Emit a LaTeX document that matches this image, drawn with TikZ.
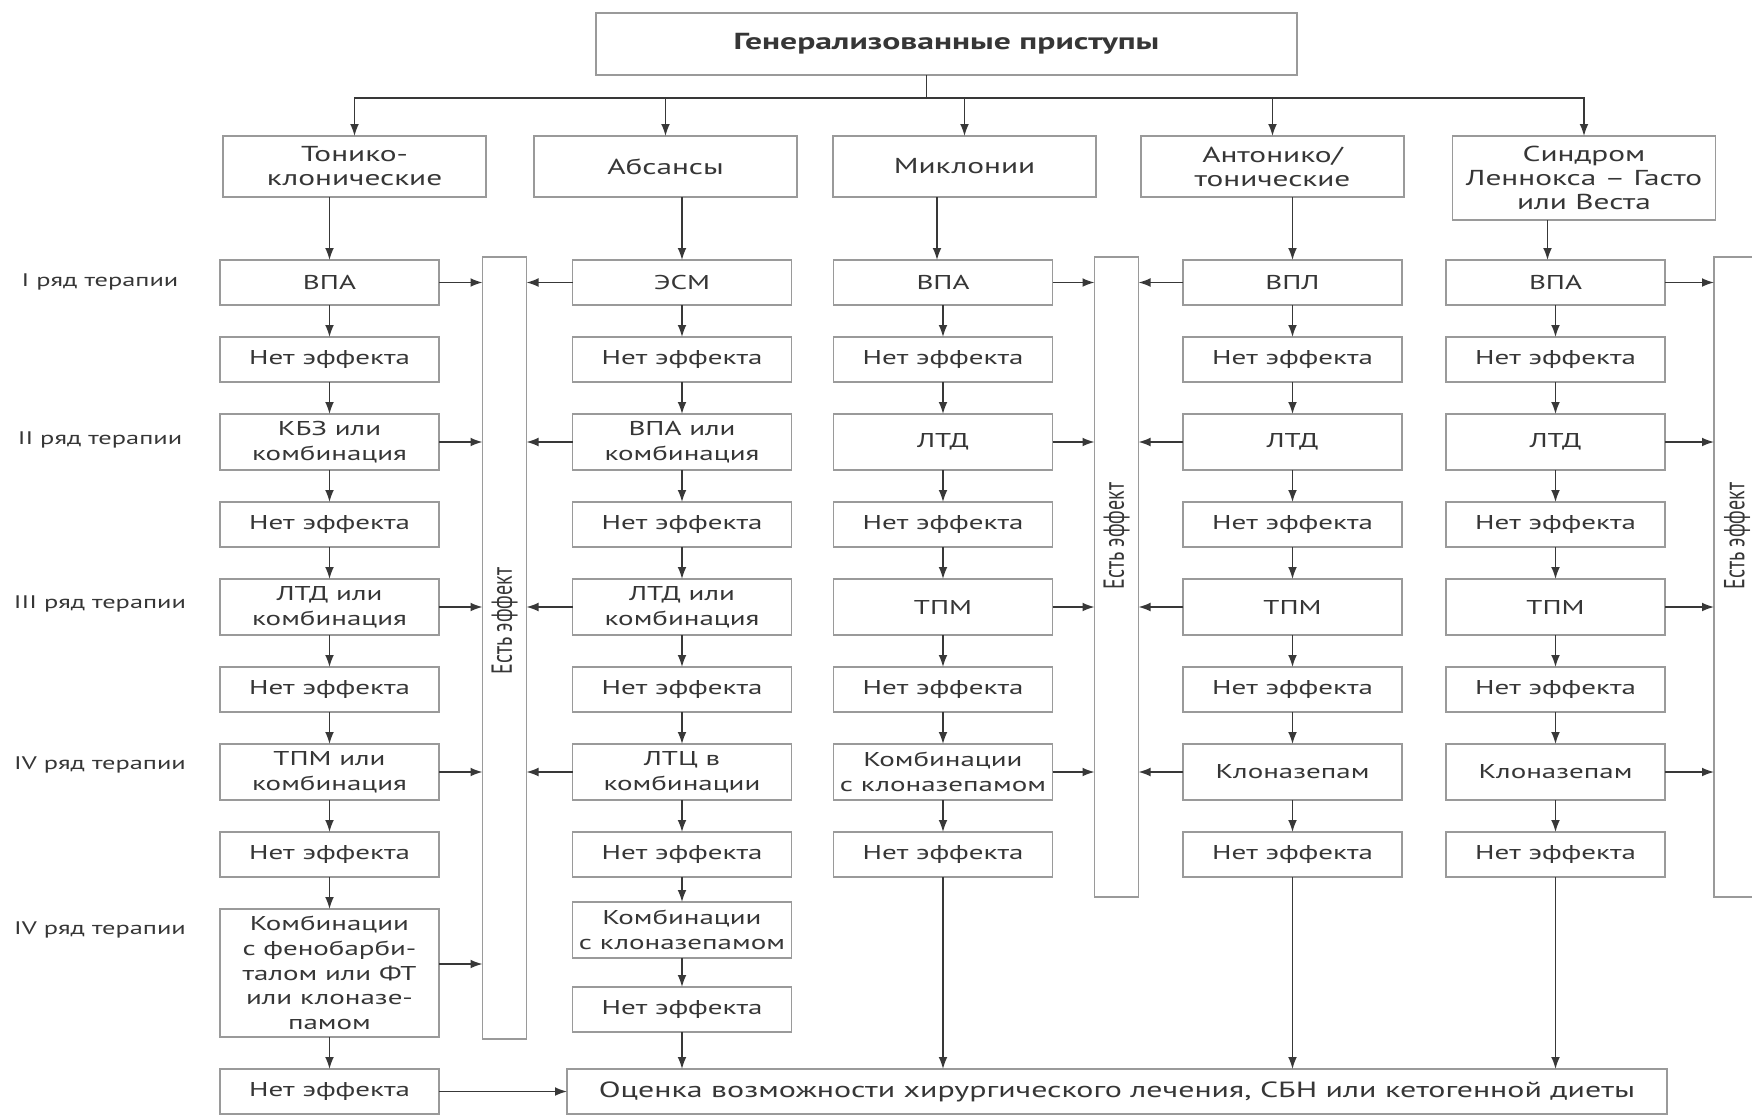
\documentclass[tikz,border=0pt]{standalone}
\usepackage{fontspec}
\setmainfont{PT Sans}[FakeStretch=1.45]
\newfontfamily\plainsans{PT Sans}
\usepackage{graphicx}
\usepackage{tikz}
\usetikzlibrary{arrows.meta,positioning}
\definecolor{gsline}{HTML}{9A9A9A}
\definecolor{gsarrow}{HTML}{383838}
\definecolor{gstext}{HTML}{363636}
\tikzset{
  block/.style={rectangle, draw=gsline, line width=0.9pt, fill=white, text=gstext,
                align=center, font=\fontsize{10}{12.3}\selectfont,
                minimum width=109.5pt, minimum height=22.5pt, inner sep=1pt, outer sep=0pt},
  dbl/.style={minimum height=28pt},
  cat/.style={block, font=\fontsize{10.8}{12}\selectfont, minimum width=131.5pt,
              minimum height=30.5pt, anchor=north},
  hdr/.style={block, font=\fontsize{11.6}{13}\selectfont\bfseries,
              minimum width=350.5pt, minimum height=31pt},
  bar/.style={rectangle, draw=gsline, line width=0.9pt, fill=white,
              minimum width=22pt, anchor=north, outer sep=0pt},
  efftxt/.style={text=gstext, rotate=90, font=\fontsize{10}{12}\plainsans, inner sep=0pt},
  rowlbl/.style={text=gstext, font=\fontsize{9.1}{10}\selectfont, inner sep=0pt},
  ar/.style={-{Latex[length=6pt,width=4.4pt]}, draw=gsarrow, line width=0.75pt},
}

\begin{document}
\begin{tikzpicture}[x=0.5pt, y=-0.5pt, node distance=16pt]
\useasboundingbox (0,0) rectangle (1752,1115);
\fill[white] (0,0) rectangle (1752,1115);

\node[hdr] (gen) at (946.5,44) {Генерализованные приступы};

\node[cat] (tk) at (354.5,136) {Тонико-\\клонические};
\node[cat] (abs) at (665.5,136) {Абсансы};
\node[cat] (mio) at (964.5,136) {Миклонии};
\node[cat] (ton) at (1272.5,136) {Антонико/\\тонические};
\node[cat, minimum height=42pt] (lg) at (1584,136) {Синдром\\Леннокса – Гасто\\или Веста};

% effect bars
\node[bar, minimum height=391pt] (bar1) at (504.5,257) {};
\node[bar, minimum height=320pt] (bar2) at (1116.5,257) {};
\node[bar, minimum height=320pt] (bar3) at (1736,257) {};
\node[efftxt] (eff1) at (504.5,621) {\scalebox{1}[1.45]{Есть эффект}};
\node[efftxt] (eff2) at (1116.5,536) {\scalebox{1}[1.45]{Есть эффект}};
\node[efftxt] (eff3) at (1737,536) {\scalebox{1}[1.45]{Есть эффект}};

% row labels
\node[rowlbl] (r1) at (100,282) {I ряд терапии};
\node[rowlbl] (r2) at (100,440) {II ряд терапии};
\node[rowlbl] (r3) at (100,604) {III ряд терапии};
\node[rowlbl] (r4) at (100,765) {IV ряд терапии};
\node[rowlbl] (r5) at (100,930) {IV ряд терапии};

% column A
\node[block] (a1) at (329.5,282.5) {ВПА};
\node[block, below=of a1] (a2) {Нет эффекта};
\node[block, dbl, below=of a2] (a3) {КБЗ или\\комбинация};
\node[block, below=of a3] (a4) {Нет эффекта};
\node[block, dbl, below=of a4] (a5) {ЛТД или\\комбинация};
\node[block, below=of a5] (a6) {Нет эффекта};
\node[block, dbl, below=of a6] (a7) {ТПМ или\\комбинация};
\node[block, below=of a7] (a8) {Нет эффекта};
\node[block, minimum height=64pt, below=of a8] (a9) {Комбинации\\с фенобарби-\\талом или ФТ\\или клоназе-\\памом};
\node[block, below=of a9] (a10) {Нет эффекта};

% column B
\node[block] (b1) at (682,282.5) {ЭСМ};
\node[block, below=of b1] (b2) {Нет эффекта};
\node[block, dbl, below=of b2] (b3) {ВПА или\\комбинация};
\node[block, below=of b3] (b4) {Нет эффекта};
\node[block, dbl, below=of b4] (b5) {ЛТД или\\комбинация};
\node[block, below=of b5] (b6) {Нет эффекта};
\node[block, dbl, below=of b6] (b7) {ЛТЦ в\\комбинации};
\node[block, below=of b7] (b8) {Нет эффекта};
\node[block, dbl, below=12.5pt of b8] (b9) {Комбинации\\с клоназепамом};
\node[block, below=14.5pt of b9] (b10) {Нет эффекта};

% column C
\node[block] (c1) at (943,282.5) {ВПА};
\node[block, below=of c1] (c2) {Нет эффекта};
\node[block, dbl, below=of c2] (c3) {ЛТД};
\node[block, below=of c3] (c4) {Нет эффекта};
\node[block, dbl, below=of c4] (c5) {ТПМ};
\node[block, below=of c5] (c6) {Нет эффекта};
\node[block, dbl, below=of c6] (c7) {Комбинации\\с клоназепамом};
\node[block, below=of c7] (c8) {Нет эффекта};

% column D
\node[block] (d1) at (1292.5,282.5) {ВПЛ};
\node[block, below=of d1] (d2) {Нет эффекта};
\node[block, dbl, below=of d2] (d3) {ЛТД};
\node[block, below=of d3] (d4) {Нет эффекта};
\node[block, dbl, below=of d4] (d5) {ТПМ};
\node[block, below=of d5] (d6) {Нет эффекта};
\node[block, dbl, below=of d6] (d7) {Клоназепам};
\node[block, below=of d7] (d8) {Нет эффекта};

% column E
\node[block] (e1) at (1555.5,282.5) {ВПА};
\node[block, below=of e1] (e2) {Нет эффекта};
\node[block, dbl, below=of e2] (e3) {ЛТД};
\node[block, below=of e3] (e4) {Нет эффекта};
\node[block, dbl, below=of e4] (e5) {ТПМ};
\node[block, below=of e5] (e6) {Нет эффекта};
\node[block, dbl, below=of e6] (e7) {Клоназепам};
\node[block, below=of e7] (e8) {Нет эффекта};

\node[block, minimum width=550pt, font=\fontsize{11}{13}\selectfont] (eval) at (1117,1091.5) {Оценка возможности хирургического лечения, СБН или кетогенной диеты};

% header to categories
\draw[ar] ([xshift=-10pt]gen.south) -- ++(0,23) -| (tk.north);
\draw[ar] ([xshift=-10pt]gen.south) -- ++(0,23) -| (abs.north);
\draw[ar] ([xshift=-10pt]gen.south) -- ++(0,23) -| (mio.north);
\draw[ar] ([xshift=-10pt]gen.south) -- ++(0,23) -| (ton.north);
\draw[ar] ([xshift=-10pt]gen.south) -- ++(0,23) -| (lg.north);
\draw[ar] (a1.north |- tk.south) -- (a1.north);
\draw[ar] (b1.north |- abs.south) -- (b1.north);
\draw[ar] ([xshift=-3pt]c1.north |- mio.south) -- ([xshift=-3pt]c1.north);
\draw[ar] (d1.north |- ton.south) -- (d1.north);
\draw[ar] ([xshift=-4pt]e1.north |- lg.south) -- ([xshift=-4pt]e1.north);

% chains
\draw[ar] (a1)--(a2); \draw[ar] (a2)--(a3); \draw[ar] (a3)--(a4); \draw[ar] (a4)--(a5); \draw[ar] (a5)--(a6);
\draw[ar] (a6)--(a7); \draw[ar] (a7)--(a8); \draw[ar] (a8)--(a9); \draw[ar] (a9)--(a10);
\draw[ar] (b1)--(b2); \draw[ar] (b2)--(b3); \draw[ar] (b3)--(b4); \draw[ar] (b4)--(b5); \draw[ar] (b5)--(b6);
\draw[ar] (b6)--(b7); \draw[ar] (b7)--(b8); \draw[ar] (b8)--(b9); \draw[ar] (b9)--(b10);
\draw[ar] (c1)--(c2); \draw[ar] (c2)--(c3); \draw[ar] (c3)--(c4); \draw[ar] (c4)--(c5); \draw[ar] (c5)--(c6);
\draw[ar] (c6)--(c7); \draw[ar] (c7)--(c8);
\draw[ar] (d1)--(d2); \draw[ar] (d2)--(d3); \draw[ar] (d3)--(d4); \draw[ar] (d4)--(d5); \draw[ar] (d5)--(d6);
\draw[ar] (d6)--(d7); \draw[ar] (d7)--(d8);
\draw[ar] (e1)--(e2); \draw[ar] (e2)--(e3); \draw[ar] (e3)--(e4); \draw[ar] (e4)--(e5); \draw[ar] (e5)--(e6);
\draw[ar] (e6)--(e7); \draw[ar] (e7)--(e8);

% to effect bars
\draw[ar] (a1.east) -- (a1.east -| bar1.west); \draw[ar] (a3.east) -- (a3.east -| bar1.west);
\draw[ar] (a5.east) -- (a5.east -| bar1.west); \draw[ar] (a7.east) -- (a7.east -| bar1.west);
\draw[ar] ([yshift=4.5pt]a9.east) -- ([yshift=4.5pt]a9.east -| bar1.west);
\draw[ar] (b1.west) -- (b1.west -| bar1.east); \draw[ar] (b3.west) -- (b3.west -| bar1.east);
\draw[ar] (b5.west) -- (b5.west -| bar1.east); \draw[ar] (b7.west) -- (b7.west -| bar1.east);
\draw[ar] (c1.east) -- (c1.east -| bar2.west); \draw[ar] (c3.east) -- (c3.east -| bar2.west);
\draw[ar] (c5.east) -- (c5.east -| bar2.west); \draw[ar] (c7.east) -- (c7.east -| bar2.west);
\draw[ar] (d1.west) -- (d1.west -| bar2.east); \draw[ar] (d3.west) -- (d3.west -| bar2.east);
\draw[ar] (d5.west) -- (d5.west -| bar2.east); \draw[ar] (d7.west) -- (d7.west -| bar2.east);
\draw[ar] (e1.east) -- (e1.east -| bar3.west); \draw[ar] (e3.east) -- (e3.east -| bar3.west);
\draw[ar] (e5.east) -- (e5.east -| bar3.west); \draw[ar] (e7.east) -- (e7.east -| bar3.west);

% to evaluation
\draw[ar] (a10.east) -- (a10.east -| eval.west);
\draw[ar] (b10.south) -- (b10.south |- eval.north);
\draw[ar] (c8.south) -- (c8.south |- eval.north);
\draw[ar] (d8.south) -- (d8.south |- eval.north);
\draw[ar] (e8.south) -- (e8.south |- eval.north);
\end{tikzpicture}
\end{document}
